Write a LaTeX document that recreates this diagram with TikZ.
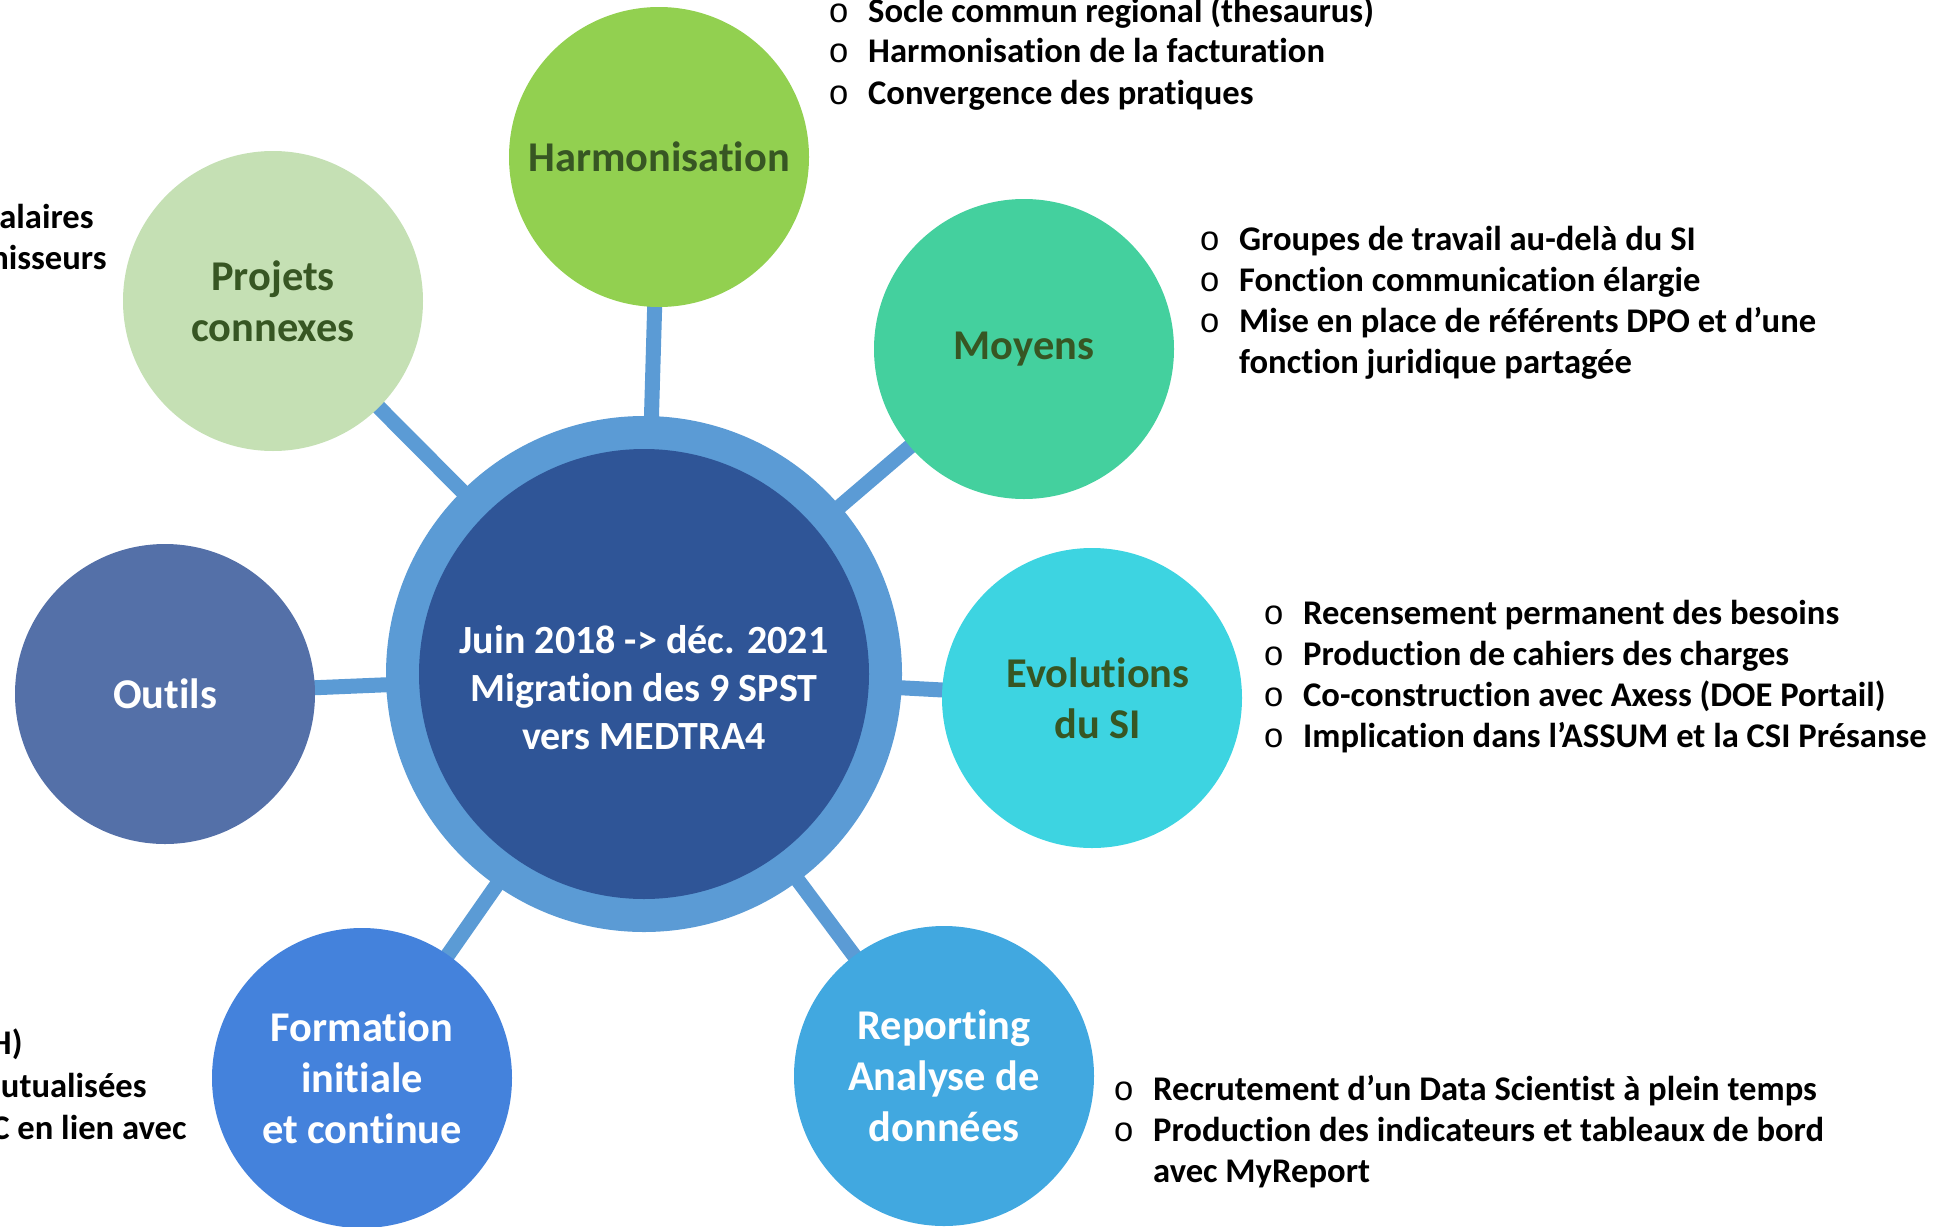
\documentclass[tikz,border=0pt]{standalone}
\usepackage{fontspec}
\setmainfont{Carlito}[Ligatures={TeX,NoCommon}]
\newfontfamily\bulletfont{Liberation Mono}
\usetikzlibrary{positioning, backgrounds}
\definecolor{ringblue}{HTML}{5B9BD5}
\definecolor{coreblue}{HTML}{2F5597}
\definecolor{leafgreen}{HTML}{375623}
\definecolor{harmofill}{HTML}{92D050}
\definecolor{projfill}{HTML}{C5E0B4}
\definecolor{moyfill}{HTML}{44D09E}
\definecolor{evolfill}{HTML}{3DD4E1}
\definecolor{repfill}{HTML}{41A8E0}
\definecolor{formfill}{HTML}{4482DC}
\definecolor{outfill}{HTML}{5470A8}
\tikzstyle{bubble} = [circle, minimum size=150pt, inner sep=0pt, align=center, font=\fontsize{21.2}{25.5}\selectfont\bfseries]
\tikzstyle{link} = [draw=ringblue, line width=7.5pt]
\tikzstyle{notes} = [inner sep=0pt, anchor=base west, font=\fontsize{17.3}{20.5}\selectfont\bfseries]
\tikzstyle{cut} = [inner sep=0pt, anchor=base east, font=\fontsize{17.3}{20.5}\selectfont\bfseries]
\newcommand{\bul}{{\bulletfont\mdseries o}}
\newcommand{\notelist}[1]{\begin{tabular}[t]{@{}l@{\hspace{9.5pt}}l@{}}#1\end{tabular}}

\begin{document}
\begin{tikzpicture}[x=0.5pt, y=-0.5pt]
  \useasboundingbox (0,0) rectangle (1943,1226);
  \clip (0,0) rectangle (1943,1226);
  \node[circle, fill=ringblue, minimum size=258pt, inner sep=0pt] (hub) at (644,674) {};
  \node[circle, fill=coreblue, minimum size=225pt, inner sep=0pt] (core) at (hub) {};
  \node[text=white, align=center, font=\fontsize{20}{24}\selectfont\bfseries] (migration) at ([yshift=-7pt]core.center) {Juin 2018 -> déc. 2021\\Migration des 9 SPST\\vers MEDTRA4};

  \node[bubble, fill=harmofill, text=leafgreen] (harmo) at (659,157) {Harmonisation};
  \node[bubble, fill=projfill, text=leafgreen] (projets) at (273,301) {Projets\\connexes};
  \node[bubble, fill=moyfill, text=leafgreen] (moyens) at (1024,349) {Moyens};
  \node[bubble, fill=evolfill, text=leafgreen] (evol) at (1092,698) {\hspace{6pt}Evolutions\\\hspace{6pt}du SI};
  \node[bubble, fill=repfill, text=white] (report) at (944,1076) {Reporting\\Analyse de\\données};
  \node[bubble, fill=formfill, text=white] (forma) at (362,1078) {Formation\\initiale\\et continue};
  \node[bubble, fill=outfill, text=white] (outils) at (165,694) {Outils};

  \begin{scope}[on background layer]
    \foreach \s in {harmo, projets, moyens, evol, report, forma, outils}
      \draw[link] (hub.center) -- (\s.center);
  \end{scope}

  \node[notes] (harmonotes) at (828,22) {\notelist{\bul & Socle commun regional (thesaurus)\\ \bul & Harmonisation de la facturation\\ \bul & Convergence des pratiques}};
  \node[notes] (moyennotes) at (1199,250) {\notelist{\bul & Groupes de travail au-delà du SI\\ \bul & Fonction communication élargie\\ \bul & Mise en place de référents DPO et d’une\\ & fonction juridique partagée}};
  \node[notes] (evolnotes) at (1263,624) {\notelist{\bul & Recensement permanent des besoins\\ \bul & Production de cahiers des charges\\ \bul & Co-construction avec Axess (DOE Portail)\\ \bul & Implication dans l’ASSUM et la CSI Présanse}};
  \node[notes] (repnotes) at (1113,1100) {\notelist{\bul & Recrutement d’un Data Scientist à plein temps\\ \bul & Production des indicateurs et tableaux de bord\\ & avec MyReport}};

  \node[cut] (projA) at (94,228) {alaires};
  \node[cut] (projB) at (107,269) {nisseurs};
  \node[cut] (formA) at (23,1054) {H)};
  \node[cut] (formB) at (147,1097) {mutualisées};
  \node[cut] (formC) at (187,1139) {C en lien avec};
\end{tikzpicture}
\end{document}
